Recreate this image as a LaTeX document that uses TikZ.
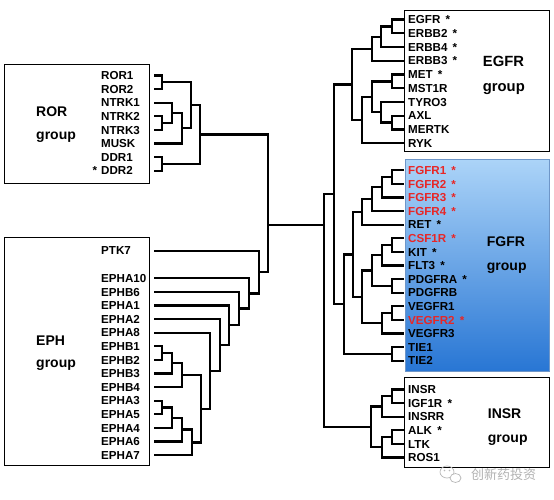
\documentclass[tikz,border=0pt]{standalone}
\usepackage{fontspec}
\setmainfont{Liberation Sans}
\newfontfamily\cjkfont{Noto Sans CJK SC}
\definecolor{kred}{RGB}{232,38,38}
\definecolor{fgtop}{RGB}{172,212,248}
\definecolor{fgbot}{RGB}{40,118,212}
\definecolor{fgedge}{RGB}{110,150,200}
\newcommand\sa{\hspace{0.45em}*}
\begin{document}
\begin{tikzpicture}[x=1pt,y=-1pt,
  tree/.style={line width=2.3pt},
  grp/.style={draw=black,line width=0.9pt},
  leafL/.style={anchor=west,inner sep=0pt,text width=53pt,align=left,text height=8.2pt,text depth=0pt,font=\fontsize{11.6}{12}\selectfont\bfseries},
  leafR/.style={anchor=west,inner xsep=4pt,inner ysep=0pt,text height=8.2pt,text depth=0pt,font=\fontsize{11.6}{12}\selectfont\bfseries},
  hl/.style={text=kred},
  glabel/.style={anchor=base west,inner sep=0pt,font=\fontsize{14}{15}\selectfont\bfseries}]
\useasboundingbox (0,0) rectangle (554,499);
\fill[white] (0,0) rectangle (554,499);
% group boxes
\draw[grp] (4,64) rectangle (149,183);
\draw[grp] (4,237.3) rectangle (149,465.7);
\draw[grp] (404.3,10.7) rectangle (549.3,151.7);
\path[top color=fgtop,bottom color=fgbot,draw=fgedge,line width=0.8pt] (405,159) rectangle (549,371);
\draw[grp] (404.3,377.3) rectangle (549.3,467.3);
% group labels
\node[glabel] (gROR) at (36,116.7) {ROR};
\node[glabel] (gRORb) at (36,139) {group};
\node[glabel] (gEPH) at (36,345) {EPH};
\node[glabel] (gEPHb) at (36,367.3) {group};
\node[glabel,font=\fontsize{14.8}{15}\selectfont\bfseries] (gEGFR) at (482.7,66.7) {EGFR};
\node[glabel,font=\fontsize{14.8}{15}\selectfont\bfseries] (gEGFRb) at (482.7,91.7) {group};
\node[glabel] (gFGFR) at (486.7,246.7) {FGFR};
\node[glabel] (gFGFRb) at (486.7,270) {group};
\node[glabel] (gINSR) at (487.7,418.3) {INSR};
\node[glabel] (gINSRb) at (487.7,442.7) {group};
% ROR leaves
\node[leafL] (ROR1) at (101,75.5) {ROR1};
\node[leafL] (ROR2) at (101,89.1) {ROR2};
\node[leafL] (NTRK1) at (101,102.7) {NTRK1};
\node[leafL] (NTRK2) at (101,116.3) {NTRK2};
\node[leafL] (NTRK3) at (101,129.9) {NTRK3};
\node[leafL] (MUSK) at (101,143.5) {MUSK};
\node[leafL] (DDR1) at (101,157.1) {DDR1};
\node[leafL] (DDR2) at (101,170.7) {DDR2};
\node[anchor=base,inner sep=0pt,font=\fontsize{11.6}{12}\selectfont\bfseries] (ddrstar) at (95,174.8) {*};
% EPH leaves
\node[leafL] (PTK7) at (101,250.7) {PTK7};
\node[leafL] (EPHA10) at (101,278.3) {EPHA10};
\node[leafL] (EPHB6) at (101,291.9) {EPHB6};
\node[leafL] (EPHA1) at (101,305.5) {EPHA1};
\node[leafL] (EPHA2) at (101,319.1) {EPHA2};
\node[leafL] (EPHA8) at (101,332.7) {EPHA8};
\node[leafL] (EPHB1) at (101,346.3) {EPHB1};
\node[leafL] (EPHB2) at (101,359.9) {EPHB2};
\node[leafL] (EPHB3) at (101,373.5) {EPHB3};
\node[leafL] (EPHB4) at (101,387.1) {EPHB4};
\node[leafL] (EPHA3) at (101,400.7) {EPHA3};
\node[leafL] (EPHA5) at (101,414.3) {EPHA5};
\node[leafL] (EPHA4) at (101,427.9) {EPHA4};
\node[leafL] (EPHA6) at (101,441.5) {EPHA6};
\node[leafL] (EPHA7) at (101,455.1) {EPHA7};
% EGFR leaves
\node[leafR] (EGFR) at (404,19.5) {EGFR\sa};
\node[leafR] (ERBB2) at (404,33.25) {ERBB2\sa};
\node[leafR] (ERBB4) at (404,47) {ERBB4\sa};
\node[leafR] (ERBB3) at (404,60.75) {ERBB3\sa};
\node[leafR] (MET) at (404,74.5) {MET\sa};
\node[leafR] (MST1R) at (404,88.25) {MST1R};
\node[leafR] (TYRO3) at (404,102) {TYRO3};
\node[leafR] (AXL) at (404,115.75) {AXL};
\node[leafR] (MERTK) at (404,129.5) {MERTK};
\node[leafR] (RYK) at (404,143.25) {RYK};
% FGFR leaves
\node[leafR,hl] (FGFR1) at (404,170.3) {FGFR1\sa};
\node[leafR,hl] (FGFR2) at (404,183.9) {FGFR2\sa};
\node[leafR,hl] (FGFR3) at (404,197.5) {FGFR3\sa};
\node[leafR,hl] (FGFR4) at (404,211.1) {FGFR4\sa};
\node[leafR] (RET) at (404,224.7) {RET\sa};
\node[leafR,hl] (CSF1R) at (404,238.3) {CSF1R\sa};
\node[leafR] (KIT) at (404,251.9) {KIT\sa};
\node[leafR] (FLT3) at (404,265.5) {FLT3\sa};
\node[leafR] (PDGFRA) at (404,279.1) {PDGFRA\sa};
\node[leafR] (PDGFRB) at (404,292.7) {PDGFRB};
\node[leafR] (VEGFR1) at (404,306.3) {VEGFR1};
\node[leafR,hl] (VEGFR2) at (404,319.9) {VEGFR2\sa};
\node[leafR] (VEGFR3) at (404,333.5) {VEGFR3};
\node[leafR] (TIE1) at (404,347.1) {TIE1};
\node[leafR] (TIE2) at (404,360.7) {TIE2};
% INSR leaves
\node[leafR] (INSR) at (404,389.5) {INSR};
\node[leafR] (IGF1R) at (404,403.1) {IGF1R\sa};
\node[leafR] (INSRR) at (404,416.7) {INSRR};
\node[leafR] (ALK) at (404,430.3) {ALK\sa};
\node[leafR] (LTK) at (404,443.9) {LTK};
\node[leafR] (ROS1) at (404,457.5) {ROS1};
% join points, ROR
\coordinate (j1) at (162,82.3);
\coordinate (j2) at (162,123.1);
\coordinate (j3) at (172,112.9);
\coordinate (j4) at (181.7,128.2);
\coordinate (j5) at (190.7,105.3);
\coordinate (j6) at (162,163.9);
\coordinate (j7) at (200,134.6);
% join points, EPH
\coordinate (k1) at (162,353.1);
\coordinate (k2) at (172,363.3);
\coordinate (k3) at (181.7,375.2);
\coordinate (k4) at (162,407.5);
\coordinate (k5) at (172,417.7);
\coordinate (k6) at (181.7,429.6);
\coordinate (k7) at (191.7,442.35);
\coordinate (k8) at (200.7,408.8);
\coordinate (k9) at (210,370.7);
\coordinate (k10) at (220,344.9);
\coordinate (k11) at (229.3,325.2);
\coordinate (k12) at (239.3,308.6);
\coordinate (k13) at (249.3,293.4);
\coordinate (k14) at (259.3,272.1);
% join points, EGFR
\coordinate (g1) at (391.7,26.4);
\coordinate (g2) at (380.7,36.7);
\coordinate (g3) at (371.7,48.7);
\coordinate (g4) at (391.7,81.4);
\coordinate (g5) at (391.7,122.6);
\coordinate (g6) at (380.7,112.3);
\coordinate (g7) at (371.7,96.9);
\coordinate (g8) at (361.7,120.1);
\coordinate (g9) at (351.7,84.4);
% join points, FGFR
\coordinate (f1) at (391.7,177.1);
\coordinate (f2) at (381.7,187.3);
\coordinate (f3) at (371.7,199.2);
\coordinate (f4) at (361.7,211.95);
\coordinate (f5) at (391.7,245.1);
\coordinate (f6) at (381.7,255.3);
\coordinate (f7) at (391.7,285.9);
\coordinate (f8) at (371.7,270.6);
\coordinate (f9) at (391.7,313.1);
\coordinate (f10) at (381.7,323.3);
\coordinate (f11) at (361.7,296.95);
\coordinate (f12) at (353.3,254.45);
\coordinate (f13) at (391.7,353.9);
\coordinate (f14) at (344.3,304.2);
% join points, INSR
\coordinate (i1) at (391.7,396.3);
\coordinate (i2) at (381.7,406.5);
\coordinate (i3) at (391.7,437.1);
\coordinate (i4) at (381.7,447.3);
\coordinate (i5) at (370.7,426.9);
% roots
\coordinate (EF) at (334,194.3);
\coordinate (rootL) at (268,225);
\coordinate (rootR) at (324,225);
% ROR tree
\draw[tree] (ROR1.east) -| (j1) |- (ROR2.east);
\draw[tree] (NTRK2.east) -| (j2) |- (NTRK3.east);
\draw[tree] (NTRK1.east) -| (j3) |- (j2);
\draw[tree] (j3) -| (j4) |- (MUSK.east);
\draw[tree] (j1) -| (j5) |- (j4);
\draw[tree] (DDR1.east) -| (j6) |- (DDR2.east);
\draw[tree] (j5) -| (j7) |- (j6);
% EPH tree
\draw[tree] (EPHB1.east) -| (k1) |- (EPHB2.east);
\draw[tree] (k1) -| (k2) |- (EPHB3.east);
\draw[tree] (k2) -| (k3) |- (EPHB4.east);
\draw[tree] (EPHA3.east) -| (k4) |- (EPHA5.east);
\draw[tree] (k4) -| (k5) |- (EPHA4.east);
\draw[tree] (k5) -| (k6) |- (EPHA6.east);
\draw[tree] (k6) -| (k7) |- (EPHA7.east);
\draw[tree] (k3) -| (k8) |- (k7);
\draw[tree] (EPHA8.east) -| (k9) |- (k8);
\draw[tree] (EPHA2.east) -| (k10) |- (k9);
\draw[tree] (EPHA1.east) -| (k11) |- (k10);
\draw[tree] (EPHB6.east) -| (k12) |- (k11);
\draw[tree] (EPHA10.east) -| (k13) |- (k12);
\draw[tree] (PTK7.east) -| (k14) |- (k13);
% EGFR tree
\draw[tree] (EGFR.west) -| (g1) |- (ERBB2.west);
\draw[tree] (g1) -| (g2) |- (ERBB4.west);
\draw[tree] (g2) -| (g3) |- (ERBB3.west);
\draw[tree] (MET.west) -| (g4) |- (MST1R.west);
\draw[tree] (AXL.west) -| (g5) |- (MERTK.west);
\draw[tree] (TYRO3.west) -| (g6) |- (g5);
\draw[tree] (g4) -| (g7) |- (g6);
\draw[tree] (g7) -| (g8) |- (RYK.west);
\draw[tree] (g3) -| (g9) |- (g8);
% FGFR tree
\draw[tree] (FGFR1.west) -| (f1) |- (FGFR2.west);
\draw[tree] (f1) -| (f2) |- (FGFR3.west);
\draw[tree] (f2) -| (f3) |- (FGFR4.west);
\draw[tree] (f3) -| (f4) |- (RET.west);
\draw[tree] (CSF1R.west) -| (f5) |- (KIT.west);
\draw[tree] (f5) -| (f6) |- (FLT3.west);
\draw[tree] (PDGFRA.west) -| (f7) |- (PDGFRB.west);
\draw[tree] (f6) -| (f8) |- (f7);
\draw[tree] (VEGFR1.west) -| (f9) |- (VEGFR2.west);
\draw[tree] (f9) -| (f10) |- (VEGFR3.west);
\draw[tree] (f8) -| (f11) |- (f10);
\draw[tree] (f4) -| (f12) |- (f11);
\draw[tree] (TIE1.west) -| (f13) |- (TIE2.west);
\draw[tree] (f12) -| (f14) |- (f13);
% INSR tree
\draw[tree] (INSR.west) -| (i1) |- (IGF1R.west);
\draw[tree] (i1) -| (i2) |- (INSRR.west);
\draw[tree] (ALK.west) -| (i3) |- (LTK.west);
\draw[tree] (i3) -| (i4) |- (ROS1.west);
\draw[tree] (i2) -| (i5) |- (i4);
% roots
\draw[tree] (g9) -| (EF) |- (f14);
\draw[tree] (j7) -| (rootL) |- (k14);
\draw[tree] (rootL) -- (rootR);
\draw[tree] (EF) -| (rootR) |- (i5);
% watermark
\draw[gray!55,line width=0.7pt] (447,472) ellipse [x radius=7pt,y radius=6pt];
\draw[gray!55,line width=0.7pt,fill=white] (455.5,478) ellipse [x radius=5.5pt,y radius=4.5pt];
\fill[gray!55] (444.5,470.5) circle [radius=0.9pt] (449.5,470.5) circle [radius=0.9pt];
\node[anchor=west,inner sep=0pt,text=gray!60,font=\cjkfont\fontsize{13}{14}\selectfont] (wm) at (471,475) {创新药投资};
\end{tikzpicture}
\end{document}
